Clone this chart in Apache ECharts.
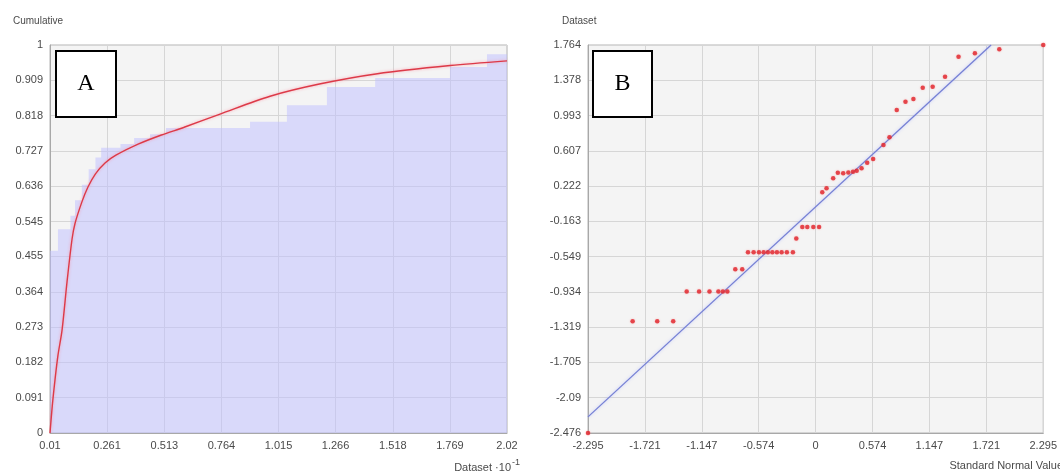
<!DOCTYPE html>
<html>
<head>
<meta charset="utf-8">
<script src="https://cdn.jsdelivr.net/npm/echarts@6/dist/echarts.min.js"></script>
<style>
html,body{margin:0;padding:0;background:#fff;}
#chart{width:1060px;height:473px;}
</style>
</head>
<body>
<div id="chart"></div>
<script>
// ---- Panel A: cumulative distribution ----
const xTicksA = ['0.01','0.261','0.513','0.764','1.015','1.266','1.518','1.769','2.02'];
const yTicksA = ['0','0.091','0.182','0.273','0.364','0.455','0.545','0.636','0.727','0.818','0.909','1'];
// empirical cumulative steps (x in Dataset·10^-1, cumulative fraction)
const stepX = [0.01, 0.045, 0.1, 0.12, 0.15, 0.18, 0.21, 0.235, 0.32, 0.38, 0.45, 0.52, 0.89, 1.052, 1.228, 1.44, 1.769, 1.932, 2.02];
const stepY = [0.47, 0.525, 0.56, 0.6, 0.64, 0.68, 0.71, 0.735, 0.745, 0.76, 0.77, 0.786, 0.802, 0.845, 0.892, 0.915, 0.943, 0.976, 0.976];
// fitted cumulative curve
const curveX = [0.01, 0.02, 0.032, 0.045, 0.063, 0.085, 0.107, 0.12, 0.15, 0.177, 0.21, 0.252, 0.3, 0.4, 0.5, 0.6, 0.758, 0.978, 1.2, 1.45, 1.77, 2.02];
const curveY = [0, 0.07, 0.137, 0.2, 0.265, 0.39, 0.5, 0.54, 0.595, 0.634, 0.668, 0.696, 0.716, 0.745, 0.768, 0.788, 0.822, 0.868, 0.9, 0.926, 0.947, 0.959];

// ---- Panel B: normal Q-Q plot ----
const xTicksB = ['-2.295','-1.721','-1.147','-0.574','0','0.574','1.147','1.721','2.295'];
const yTicksB = ['-2.476','-2.09','-1.705','-1.319','-0.934','-0.549','-0.163','0.222','0.607','0.993','1.378','1.764'];
const qqX = [-2.295, -1.845, -1.597, -1.436,
  -1.30, -1.175, -1.07, -0.98, -0.935, -0.89,
  -0.81, -0.74,
  -0.682, -0.625, -0.571, -0.524, -0.481, -0.436, -0.39, -0.343, -0.29, -0.229,
  -0.195, -0.134, -0.084, -0.023, 0.035,
  0.067, 0.11, 0.177, 0.224, 0.278, 0.33, 0.377, 0.414, 0.463, 0.52, 0.58,
  0.684, 0.745, 0.818, 0.906, 0.986, 1.08, 1.18, 1.305, 1.441, 1.606, 1.852, 2.295];
const qqY = [-2.476, -1.255, -1.255, -1.255,
  -0.93, -0.93, -0.93, -0.93, -0.93, -0.93,
  -0.687, -0.687,
  -0.5, -0.5, -0.5, -0.5, -0.5, -0.5, -0.5, -0.5, -0.5, -0.5,
  -0.35, -0.225, -0.225, -0.225, -0.225,
  0.154, 0.198, 0.307, 0.369, 0.362, 0.37, 0.38, 0.39, 0.417, 0.478, 0.518,
  0.671, 0.755, 1.054, 1.144, 1.174, 1.297, 1.308, 1.418, 1.636, 1.673, 1.717, 1.764];
const fitX = [-2.295, 1.769];
const fitY = [-2.30, 1.764];

const TXT = '#4a4a4a';
const FONT = 'Liberation Sans';

function tickAxis(ticks, min, max, pos) {
  const vals = ticks.map(parseFloat);
  return {
    type: 'value', min: min, max: max, position: pos,
    axisLine: {show: true, onZero: false, lineStyle: {color: '#a8a8a8', width: 1}},
    axisTick: {show: false, customValues: vals},
    splitLine: {show: true, lineStyle: {color: '#d6d6d6', width: 1}},
    axisLabel: {
      customValues: vals, color: TXT, fontFamily: FONT, fontSize: 11, margin: 7,
      formatter: function (v) {
        for (let i = 0; i < ticks.length; i++) if (Math.abs(parseFloat(ticks[i]) - v) < 1e-6) return ticks[i];
        return '';
      }
    }
  };
}

const chart = echarts.init(document.getElementById('chart'), null, {renderer: 'canvas'});
const option = {
  animation: false,
  backgroundColor: '#ffffff',
  grid: [
    {left: 50, top: 45, width: 457, height: 388, show: true, backgroundColor: '#f4f4f4', borderColor: '#b4b4b4', borderWidth: 1},
    {left: 588, top: 45, width: 456, height: 388, show: true, backgroundColor: '#f4f4f4', borderColor: '#b4b4b4', borderWidth: 1}
  ],
  xAxis: [
    Object.assign(tickAxis(xTicksA, 0.01, 2.02, 'bottom'), {gridIndex: 0}),
    Object.assign(tickAxis(xTicksB, -2.295, 2.295, 'bottom'), {gridIndex: 1})
  ],
  yAxis: [
    Object.assign(tickAxis(yTicksA, 0, 1, 'left'), {gridIndex: 0}),
    Object.assign(tickAxis(yTicksB, -2.476, 1.764, 'left'), {gridIndex: 1})
  ],
  series: [
    {
      type: 'line', xAxisIndex: 0, yAxisIndex: 0, step: 'end', symbol: 'none',
      lineStyle: {width: 0, color: 'rgba(0,0,0,0)'},
      areaStyle: {color: 'rgba(190,190,255,0.72)', origin: 'start'},
      data: stepX.map((x, i) => [x, stepY[i]]), z: 2
    },
    {
      type: 'line', xAxisIndex: 0, yAxisIndex: 0, symbol: 'none', smooth: 0.3,
      lineStyle: {width: 1.4, color: '#dc3a48', shadowColor: 'rgba(255,130,150,0.7)', shadowBlur: 3},
      data: curveX.map((x, i) => [x, curveY[i]]), z: 3
    },
    {
      type: 'line', xAxisIndex: 1, yAxisIndex: 1, symbol: 'none',
      lineStyle: {width: 1.3, color: '#7680d4', shadowColor: 'rgba(170,180,255,0.7)', shadowBlur: 3},
      data: fitX.map((x, i) => [x, fitY[i]]), z: 3
    },
    {
      type: 'scatter', xAxisIndex: 1, yAxisIndex: 1, symbol: 'circle', symbolSize: 4.5, clip: false,
      itemStyle: {color: '#e0242c', shadowColor: 'rgba(255,120,120,0.6)', shadowBlur: 2},
      data: qqX.map((x, i) => [x, qqY[i]]), z: 4
    }
  ],
  graphic: [
    {type: 'text', left: 13, top: 16, style: {text: 'Cumulative', fill: TXT, font: '10px "Liberation Sans"'}},
    {type: 'text', left: 562, top: 16, style: {text: 'Dataset', fill: TXT, font: '10px "Liberation Sans"'}},
    {type: 'text', right: 540, top: 458, style: {
      text: '{a|Dataset ·10}{b|-1}', rich: {
        a: {fill: TXT, fontFamily: FONT, fontSize: 11, verticalAlign: 'bottom'},
        b: {fill: TXT, fontFamily: FONT, fontSize: 9, verticalAlign: 'top', padding: [0, 0, 6, 1]}
      }}},
    {type: 'text', right: -3, top: 460, style: {text: 'Standard Normal Value', fill: TXT, font: '11px "Liberation Sans"'}},
    {type: 'rect', z: 100, shape: {x: 56, y: 51, width: 60, height: 66}, style: {fill: '#fff', stroke: '#000', lineWidth: 2}},
    {type: 'text', z: 101, style: {x: 86, y: 84, text: 'A', fill: '#000', font: '24px "Liberation Serif"', textAlign: 'center', textVerticalAlign: 'middle'}},
    {type: 'rect', z: 100, shape: {x: 593, y: 51, width: 59, height: 66}, style: {fill: '#fff', stroke: '#000', lineWidth: 2}},
    {type: 'text', z: 101, style: {x: 622.5, y: 84, text: 'B', fill: '#000', font: '24px "Liberation Serif"', textAlign: 'center', textVerticalAlign: 'middle'}}
  ]
};
chart.setOption(option);
</script>
</body>
</html>
